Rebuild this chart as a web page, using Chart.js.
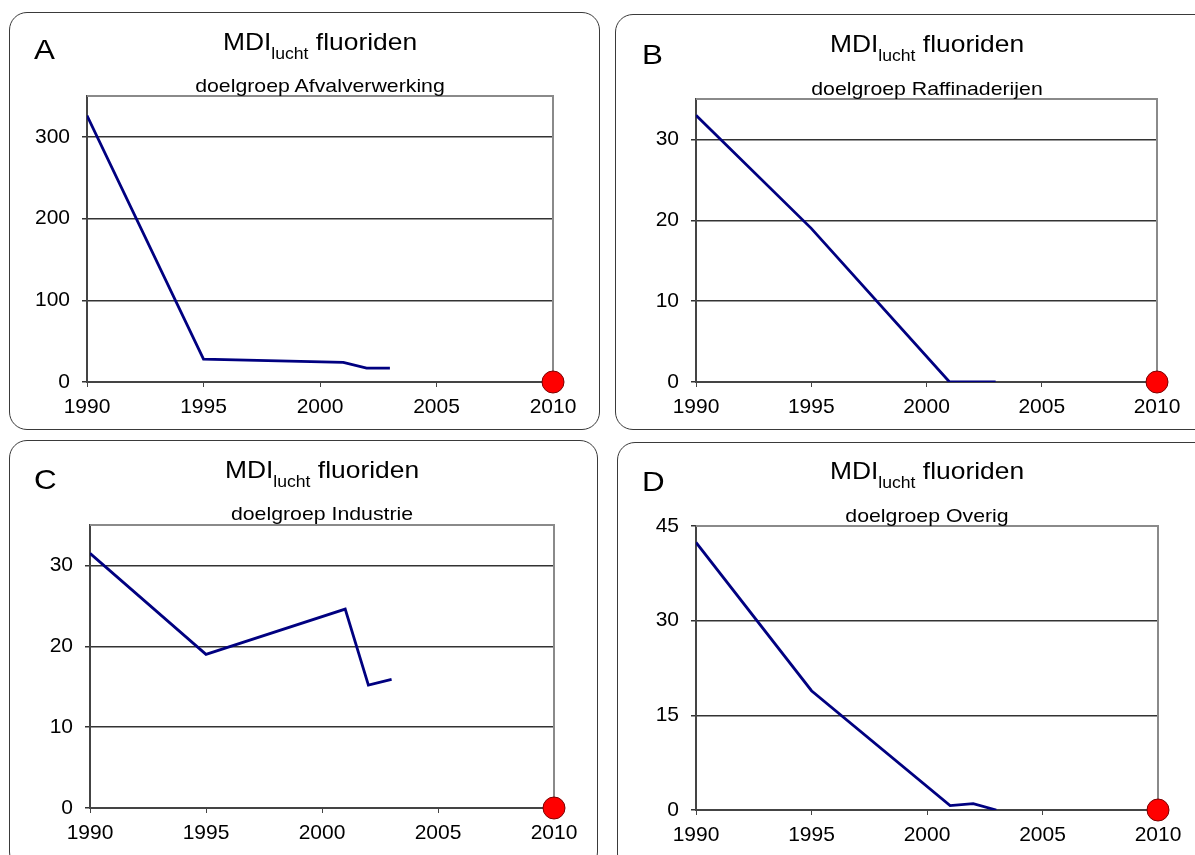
<!DOCTYPE html>
<html>
<head>
<meta charset="utf-8">
<script src="https://cdn.jsdelivr.net/npm/chart.js@4.4.1/dist/chart.umd.min.js"></script>
<style>
  html, body { margin: 0; padding: 0; background: #fff; overflow: hidden; }
  body { width: 1195px; height: 855px; position: relative; font-family: Arial, "Liberation Sans", sans-serif; }
  .box { position: absolute; border: 1px solid #3a3a3a; border-radius: 18px; box-sizing: border-box; }
  .box canvas { position: absolute; left: 0; top: 0; }
  .txt { position: absolute; white-space: nowrap; color: #000; transform-origin: center; }
  .letter { font-size: 28px; line-height: 28px; transform-origin: left; transform: scaleX(1.12); }
  .title { font-size: 24px; line-height: 24px; text-align: center; width: 400px; transform: scaleX(1.1); }
  .title span { font-size: 16px; vertical-align: -9px; }
  .sub { font-size: 19px; line-height: 19px; text-align: center; width: 400px; transform: scaleX(1.12); }
</style>
</head>
<body>
<script>
// gegevens
const years = [1990, 1995, 2001, 2002, 2003];
const afvalverwerking = [326, 28, 24, 17, 17];
const raffinaderijen = [33, 19, 0, 0, 0];
const industrie = [31.5, 19, 24.6, 15.2, 15.9];
const overig = [42.4, 18.9, 0.7, 1.0, 0];

// doel 2010
const doelJaar = [2010];
const doelWaarde = [0];

const xTicks = [1990, 1995, 2000, 2005, 2010];
const yTicksA = [0, 100, 200, 300];
const yTicksB = [0, 10, 20, 30];
const yTicksC = [0, 10, 20, 30];
const yTicksD = [0, 15, 30, 45];
const yMax = [350, 35, 35, 45];

const letters = ["A", "B", "C", "D"];
const subtitles = [
  "doelgroep Afvalverwerking",
  "doelgroep Raffinaderijen",
  "doelgroep Industrie",
  "doelgroep Overig",
];

// layout (pagina-coordinaten)
const panels = [
  { box: { x: 9, y: 12, w: 591, h: 418 }, plot: { l: 87, t: 96, r: 553, b: 382 },
    letterPos: [34, 60], titleBase: 50, subBase: 92, values: afvalverwerking, yTicks: yTicksA },
  { box: { x: 615, y: 14, w: 600, h: 416 }, plot: { l: 696, t: 99, r: 1157, b: 382 },
    letterPos: [642, 65], titleBase: 52, subBase: 95, values: raffinaderijen, yTicks: yTicksB },
  { box: { x: 9, y: 440, w: 589, h: 430 }, plot: { l: 90, t: 525, r: 554, b: 808 },
    letterPos: [34, 490], titleBase: 478, subBase: 520, values: industrie, yTicks: yTicksC },
  { box: { x: 617, y: 442, w: 600, h: 430 }, plot: { l: 696, t: 526, r: 1158, b: 810 },
    letterPos: [642, 492], titleBase: 479, subBase: 522, values: overig, yTicks: yTicksD },
];

const FONT = "Arial, 'Liberation Sans', sans-serif";

// grijze rand boven en rechts van het plotvlak
const plotFrame = {
  id: "plotFrame",
  beforeDatasetsDraw(chart) {
    const a = chart.chartArea;
    const ctx = chart.ctx;
    ctx.save();
    ctx.strokeStyle = "#8a8a8a";
    ctx.lineWidth = 2;
    ctx.beginPath();
    ctx.moveTo(a.left, a.top);
    ctx.lineTo(a.right, a.top);
    ctx.lineTo(a.right, a.bottom);
    ctx.stroke();
    ctx.restore();
  },
};

function addText(cls, html, left, baseline, size) {
  const d = document.createElement("div");
  d.className = "txt " + cls;
  d.innerHTML = html;
  d.style.left = left + "px";
  d.style.top = baseline - 0.8465 * size + "px";
  document.body.appendChild(d);
}

panels.forEach((p, i) => {
  const box = document.createElement("div");
  box.className = "box";
  box.style.left = p.box.x + "px";
  box.style.top = p.box.y + "px";
  box.style.width = p.box.w + "px";
  box.style.height = p.box.h + "px";
  document.body.appendChild(box);

  const cw = p.box.w;
  const plotL = p.plot.l - p.box.x;
  const plotT = p.plot.t - p.box.y;
  const plotR = p.plot.r - p.box.x;
  const plotB = p.plot.b - p.box.y;
  const xAxisH = 50;
  const ch = plotB + xAxisH;

  const canvas = document.createElement("canvas");
  canvas.width = cw;
  canvas.height = ch;
  canvas.style.width = cw + "px";
  canvas.style.height = ch + "px";
  canvas.style.left = "-1px";
  canvas.style.top = "-1px";
  box.appendChild(canvas);

  const cx = (p.plot.l + p.plot.r) / 2;
  addText("letter", letters[i], p.letterPos[0], p.letterPos[1], 28);
  addText("title", "MDI<span>lucht</span> fluoriden", cx - 200, p.titleBase, 24);
  addText("sub", subtitles[i], cx - 200, p.subBase, 19);

  new Chart(canvas.getContext("2d"), {
    type: "line",
    data: {
      datasets: [
        {
          data: years.map((y, k) => ({ x: y, y: p.values[k] })),
          borderColor: "#000080",
          borderWidth: 2.8,
          pointRadius: 0,
          tension: 0,
          fill: false,
        },
        {
          data: doelJaar.map((y, k) => ({ x: y, y: doelWaarde[k] })),
          showLine: false,
          pointRadius: 11,
          pointBackgroundColor: "#ff0000",
          pointBorderColor: "#7a0000",
          pointBorderWidth: 1,
          clip: false,
        },
      ],
    },
    options: {
      responsive: false,
      animation: false,
      layout: { padding: { left: 0, top: plotT, right: cw - plotR, bottom: 0 } },
      plugins: { legend: { display: false }, tooltip: { enabled: false } },
      scales: {
        x: {
          type: "linear",
          min: xTicks[0],
          max: xTicks[xTicks.length - 1],
          afterBuildTicks: (s) => { s.ticks = xTicks.map((v) => ({ value: v })); },
          afterFit: (s) => { s.height = xAxisH; },
          ticks: {
            color: "#000",
            font: { size: 21, family: FONT },
            padding: 8,
            maxRotation: 0,
            autoSkip: false,
            callback: (v) => String(v),
          },
          grid: { drawOnChartArea: false, drawTicks: true, tickLength: 5, color: "#444" },
          border: { color: "#444", width: 2 },
        },
        y: {
          min: 0,
          max: yMax[i],
          afterBuildTicks: (s) => { s.ticks = p.yTicks.map((v) => ({ value: v })); },
          afterFit: (s) => { s.width = plotL; },
          ticks: {
            color: "#000",
            font: { size: 21, family: FONT },
            padding: 12,
            callback: (v) => String(v),
          },
          grid: { color: "#333", lineWidth: 1.5, tickLength: 5 },
          border: { color: "#444", width: 2 },
        },
      },
    },
    plugins: [plotFrame],
  });
});
</script>
</body>
</html>
